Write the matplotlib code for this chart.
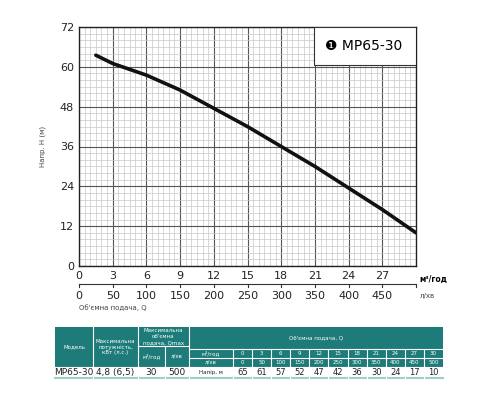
import matplotlib
matplotlib.use("Agg")
import matplotlib.pyplot as plt
from matplotlib.patches import Rectangle
from matplotlib.transforms import blended_transform_factory
import numpy as np

q_m3h = [0, 3, 6, 9, 12, 15, 18, 21, 24, 27, 30]
q_lmin = [0, 50, 100, 150, 200, 250, 300, 350, 400, 450, 500]
head = [65, 61, 57, 52, 47, 42, 36, 30, 24, 17, 10]
curve_q = [1.5, 3, 6, 9, 12, 15, 18, 21, 24, 27, 30]
curve_h = [63.5, 61, 57.5, 53, 47.5, 42, 36, 30, 23.5, 17, 10]
x_ticks = [0, 3, 6, 9, 12, 15, 18, 21, 24, 27]
y_ticks = [0, 12, 24, 36, 48, 60, 72]
l_ticks = [0, 50, 100, 150, 200, 250, 300, 350, 400, 450]
model = "MP65-30"
power = "4,8 (6,5)"
qmax_m3 = "30"
qmax_l = "500"

teal = "#1d7b79"
fig = plt.figure(figsize=(5, 4), dpi=100)
W, H = 500, 400
def fr(x0, y0, x1, y1):
    return [x0 / W, 1 - y1 / H, (x1 - x0) / W, (y1 - y0) / H]

ax = fig.add_axes(fr(79, 27, 416, 266))
ax.set_xlim(0, 30); ax.set_ylim(0, 72)
ax.set_xticks(np.arange(0, 30.01, 0.5), minor=True)
ax.set_yticks(np.arange(0, 72.01, 2), minor=True)
ax.set_xticks(x_ticks); ax.set_yticks(y_ticks)
ax.grid(which="minor", color="#c8c8c8", lw=0.5)
ax.grid(which="major", color="#555555", lw=0.8)
ax.tick_params(which="both", length=0, labelsize=8, colors="#222222")
for s in ax.spines.values():
    s.set_color("#222222"); s.set_linewidth(1)
ax.plot(curve_q, curve_h, color="#111111", lw=2.6, solid_capstyle="round", zorder=5)
ax.add_patch(Rectangle((0.698, 0.84), 0.302, 0.16, transform=ax.transAxes,
                       facecolor="white", edgecolor="#333333", lw=0.8, zorder=6))
ax.text(0.73, 0.92, "❶ MP65-30", transform=ax.transAxes, fontsize=10,
        va="center", zorder=7)
ax.text(1.01, -0.055, "м³/год", transform=ax.transAxes, fontsize=5.5,
        fontweight="bold", va="center")
ax.set_ylabel("Напр. H (м)", fontsize=5, labelpad=10, color="#444444")

ax2 = fig.add_axes(fr(79, 284, 416, 306))
ax2.set_xlim(0, 500); ax2.set_ylim(0, 1)
ax2.axis("off")
ax2.plot([0, 500], [1, 1], color="#333333", lw=0.8, clip_on=False)
for v in l_ticks + [500]:
    ax2.plot([v, v], [1, 0.86], color="#333333", lw=0.8, clip_on=False)
for v in l_ticks:
    ax2.text(v, 0.45, str(v), fontsize=8, ha="center", va="center", color="#222222")
ax2.text(505, 0.45, "л/хв", fontsize=5, va="center", color="#444444")
ax2.text(0, -0.05, "Об'ємна подача, Q", fontsize=5, va="center", color="#444444")

tb = fig.add_axes([0, 0, 1, 1])
tb.set_xlim(0, W); tb.set_ylim(H, 0); tb.axis("off")
tb.add_patch(Rectangle((55, 327), 388, 40, facecolor=teal, edgecolor="none"))
tb.plot([55, 443], [378, 378], color="#9ccfcc", lw=1.5)
wc = dict(color="white", lw=0.8)
for x in [93, 138, 189]:
    tb.plot([x, x], [327, 378], **wc)
tb.plot([165, 165], [346, 378], **wc)
tb.plot([138, 189], [346, 346], **wc)
tb.plot([189, 443], [349, 349], **wc)
tb.plot([189, 443], [358, 358], **wc)
tb.plot([55, 443], [367, 367], **wc)
x0c, wcol = 233, (443 - 233) / 11
for i in range(11):
    tb.plot([x0c + i * wcol] * 2, [349, 378], **wc)
tf = dict(fontsize=4, color="white", ha="center", va="center")
tb.text(74, 347, "Модель", **tf)
tb.text(115.5, 347, "Максимальна\nпотужність,\nкВт (л.с.)", **tf)
tb.text(163.5, 336.5, "Максимальна\nоб'ємна\nподача, Qmax", **tf)
tb.text(151.5, 356.5, "м³/год", **tf)
tb.text(177, 356.5, "л/хв", **tf)
tb.text(316, 338, "Об'ємна подача, Q", **tf)
tb.text(211, 353.5, "м³/год", **tf)
tb.text(211, 362.5, "л/хв", **tf)
for i in range(11):
    cx = x0c + (i + 0.5) * wcol
    tb.text(cx, 353.5, str(q_m3h[i]), **tf)
    tb.text(cx, 362.5, str(q_lmin[i]), **tf)
    tb.text(cx, 372.5, str(head[i]), fontsize=6, ha="center", va="center", color="#222222")
df = dict(fontsize=6.5, ha="center", va="center", color="#222222")
tb.text(74, 372.5, model, **df)
tb.text(115.5, 372.5, power, **df)
tb.text(151.5, 372.5, qmax_m3, **df)
tb.text(177, 372.5, qmax_l, **df)
tb.text(211, 372.5, "Напір, м", fontsize=4, ha="center", va="center", color="#222222")

fig.savefig("out.png", dpi=100)
